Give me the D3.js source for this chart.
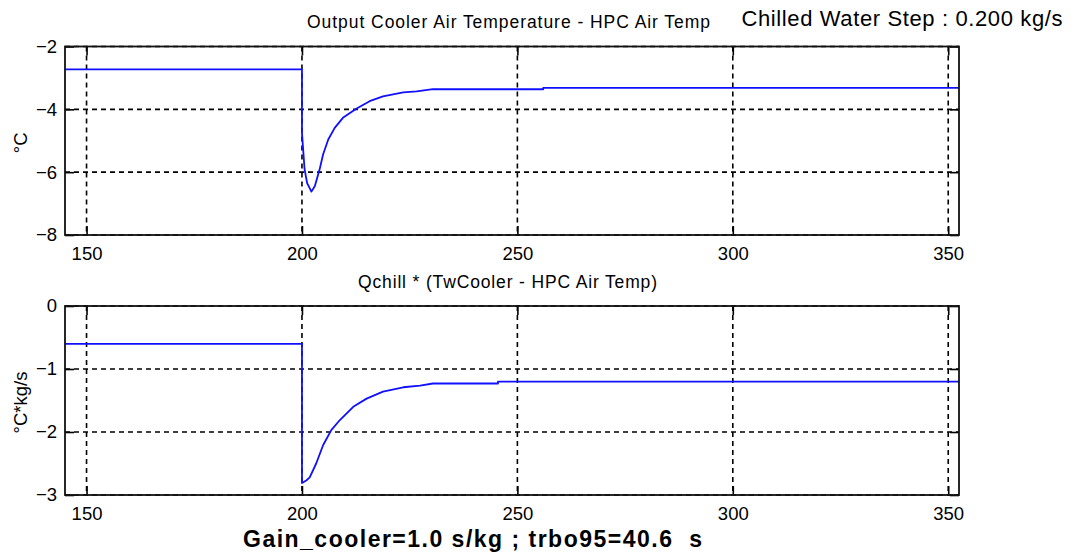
<!DOCTYPE html>
<html>
<head>
<meta charset="utf-8">
<script src="https://cdn.jsdelivr.net/npm/d3@7"></script>
<style>
  html, body { margin: 0; padding: 0; background: #fff; }
  svg { display: block; font-family: Arial, "Liberation Sans", Helvetica, sans-serif; }
  text { white-space: pre; }
</style>
</head>
<body>
<svg id="chart" width="1074" height="555"></svg>
<script>
// Simulation time (s)
const xTicks = [150, 200, 250, 300, 350];
const xDomain = [145, 352.5];

// Output cooler air temperature minus HPC air temperature (°C)
const tempTime = [145, 200, 200, 200.6, 201.2, 202.2, 203.0, 204.1, 204.9, 206.1, 207.6, 209.5,
                  212.6, 215.7, 218.8, 223.5, 226.6, 230.4, 256, 256, 352.5];
const tempValues = [-2.73, -2.73, -4.75, -5.9, -6.35, -6.62, -6.44, -5.91, -5.44, -4.96, -4.59, -4.27,
                    -3.98, -3.74, -3.59, -3.46, -3.43, -3.36, -3.36, -3.32, -3.32];
const tempTicks = [-8, -6, -4, -2];

// Qchill * (TwCooler - HPC air temperature) (°C*kg/s)
const qTime = [145, 200, 200, 201.0, 201.8, 203.3, 204.9, 206.8, 208.8, 211.9, 215, 218.8,
               223.5, 227.4, 230.4, 245.5, 245.5, 352.5];
const qValues = [-0.6, -0.6, -2.81, -2.77, -2.72, -2.5, -2.21, -1.97, -1.81, -1.60, -1.47, -1.36,
                 -1.29, -1.265, -1.23, -1.23, -1.20, -1.20];
const qTicks = [-3, -2, -1, 0];

const svg = d3.select("#chart");
const left = 65, right = 959;
const x = d3.scaleLinear().domain(xDomain).range([left, right]);

function panel(cfg) {
  const y = d3.scaleLinear().domain(cfg.yDomain).range([cfg.bottom, cfg.top]);
  const g = svg.append("g");
  const h = cfg.bottom - cfg.top, w = right - left;

  // dashed grid
  const grid = g.append("g").attr("stroke", "#000").attr("stroke-width", 1.6)
    .attr("stroke-dasharray", "5,4").attr("fill", "none");
  grid.selectAll("line.v").data(xTicks).join("line").attr("class", "v")
    .attr("x1", d => x(d)).attr("x2", d => x(d))
    .attr("y1", cfg.top).attr("y2", cfg.bottom);
  grid.selectAll("line.h").data(cfg.yTicks).join("line").attr("class", "h")
    .attr("x1", left).attr("x2", right)
    .attr("y1", d => y(d)).attr("y2", d => y(d));

  // series
  const pts = cfg.t.map((t, i) => [t, cfg.v[i]]);
  g.append("path").datum(pts)
    .attr("fill", "none").attr("stroke", "#1010ff").attr("stroke-width", 1.8)
    .attr("stroke-linejoin", "round")
    .attr("d", d3.line().x(d => x(d[0])).y(d => y(d[1])));

  // axes with inward ticks on all four sides
  const tk = 9;
  const styleAxis = sel => {
    sel.select(".domain").remove();
    sel.selectAll(".tick line").attr("stroke", "#000").attr("stroke-width", 1.6);
    sel.selectAll(".tick text").attr("fill", "#000").attr("font-size", 18.5);
  };
  g.append("g").attr("transform", `translate(0,${cfg.bottom})`)
    .call(d3.axisBottom(x).tickValues(xTicks).tickSize(-tk).tickPadding(12).tickFormat(d3.format("d")))
    .call(styleAxis);
  g.append("g").attr("transform", `translate(0,${cfg.top})`)
    .call(d3.axisTop(x).tickValues(xTicks).tickSize(-tk).tickFormat(""))
    .call(styleAxis);
  g.append("g").attr("transform", `translate(${left},0)`)
    .call(d3.axisLeft(y).tickValues(cfg.yTicks).tickSize(-tk).tickPadding(8).tickFormat(d3.format("d")))
    .call(styleAxis);
  g.append("g").attr("transform", `translate(${right},0)`)
    .call(d3.axisRight(y).tickValues(cfg.yTicks).tickSize(-tk).tickFormat(""))
    .call(styleAxis);

  // frame
  g.append("rect").attr("x", left).attr("y", cfg.top).attr("width", w).attr("height", h)
    .attr("fill", "none").attr("stroke", "#111").attr("stroke-width", 1.8);

  // y label
  g.append("text")
    .attr("transform", `translate(27,${(cfg.top + cfg.bottom) / 2 + 2}) rotate(-90)`)
    .attr("text-anchor", "middle").attr("font-size", 18.5).attr("fill", "#000")
    .text(cfg.ylabel);

  // panel title
  g.append("text")
    .attr("x", cfg.titleX).attr("y", cfg.titleY)
    .attr("text-anchor", "middle").attr("font-size", 17.5).attr("fill", "#000")
    .attr("textLength", cfg.titleLen).attr("lengthAdjust", "spacing")
    .text(cfg.title);
}

panel({
  top: 46.5, bottom: 235, yDomain: [-8, -2], yTicks: tempTicks,
  t: tempTime, v: tempValues, ylabel: "°C",
  title: "Output Cooler Air Temperature - HPC Air Temp", titleX: 508.5, titleY: 27.5, titleLen: 403
});

panel({
  top: 306, bottom: 495, yDomain: [-3, 0], yTicks: qTicks,
  t: qTime, v: qValues, ylabel: "°C*kg/s",
  title: "Qchill * (TwCooler - HPC Air Temp)", titleX: 507.5, titleY: 288, titleLen: 299
});

// header and footer annotations
svg.append("text")
  .attr("x", 741.5).attr("y", 26).attr("font-size", 22).attr("fill", "#000")
  .attr("textLength", 321).attr("lengthAdjust", "spacing")
  .text("Chilled Water Step : 0.200 kg/s");

svg.append("text")
  .attr("x", 243).attr("y", 547).attr("font-size", 23).attr("font-weight", "bold").attr("fill", "#000")
  .attr("textLength", 459).attr("lengthAdjust", "spacing")
  .text("Gain_cooler=1.0 s/kg ; trbo95=40.6  s");
</script>
</body>
</html>
